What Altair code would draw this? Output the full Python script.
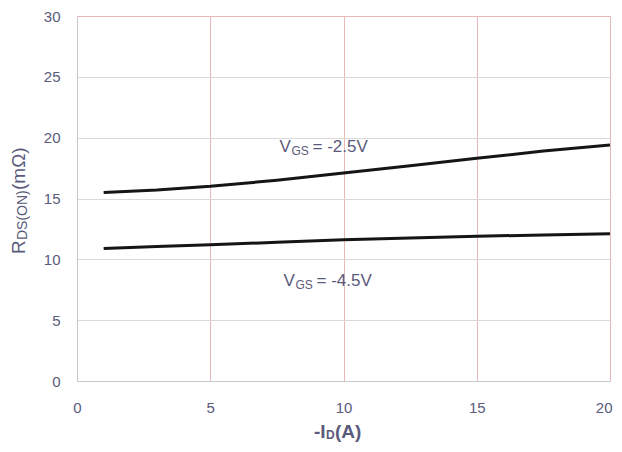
import altair as alt
import pandas as pd

# Data
id_a = [1, 3, 5, 7.5, 10, 12.5, 15, 17.5, 20]
rds_25 = [15.5, 15.7, 16.0, 16.5, 17.1, 17.7, 18.3, 18.9, 19.4]
rds_45 = [10.9, 11.05, 11.2, 11.4, 11.6, 11.75, 11.9, 12.0, 12.1]
series = ["VGS = -2.5V", "VGS = -4.5V"]

ann_x = [7.6, 7.75]
ann_y = [19.2, 8.2]
ann_rest = ["= -2.5V", "= -4.5V"]

x_ticks = [0, 5, 10, 15, 20]
y_ticks = [0, 5, 10, 15, 20, 25, 30]

rows = []
for s, vals in zip(series, [rds_25, rds_45]):
    for x, v in zip(id_a, vals):
        rows.append({"id": x, "rds": v, "series": s})
df = pd.DataFrame(rows)
ann = pd.DataFrame({"x": ann_x, "y": ann_y, "rest": ann_rest})

FONT = "Liberation Sans"
LABEL_COLOR = "#5a5a7c"
PINK = "#e8b9b9"
GRAY = "#d9d9d9"

xs = alt.Scale(domain=[0, 20], nice=False, zero=False)
ys = alt.Scale(domain=[0, 30], nice=False)

lines = alt.Chart(df).mark_line(color="#151515", strokeWidth=3).encode(
    x=alt.X("id:Q", scale=xs, title=None,
            axis=alt.Axis(values=x_ticks, grid=True, gridColor=PINK, ticks=False,
                          domainColor="#c8c8c8", labelFontSize=15, labelFont=FONT,
                          labelColor=LABEL_COLOR, labelPadding=19,
                          labelFlush=False,
                          labelAlign={"condition": {"test": "datum.value === 20", "value": "right"}, "value": "center"},
                          labelOffset={"condition": {"test": "datum.value === 20", "value": 2}, "value": 0})),
    y=alt.Y("rds:Q", scale=ys, title=None,
            axis=alt.Axis(values=y_ticks, grid=True,
                          gridColor={"condition": {"test": "datum.value === 30", "value": PINK}, "value": GRAY},
                          ticks=False, domainColor="#c8c8c8", labelFontSize=15,
                          labelFont=FONT, labelColor=LABEL_COLOR, labelPadding=17)),
    detail="series:N",
)

base_ann = alt.Chart(ann).encode(x=alt.X("x:Q", scale=xs), y=alt.Y("y:Q", scale=ys))
t_v = base_ann.mark_text(align="left", baseline="middle", font=FONT, fontSize=17,
                         color=LABEL_COLOR).encode(text=alt.value("V"))
t_gs = base_ann.mark_text(align="left", baseline="middle", font=FONT, fontSize=12,
                          color=LABEL_COLOR, dx=12, dy=4).encode(text=alt.value("GS"))
t_rest = base_ann.mark_text(align="left", baseline="middle", font=FONT, fontSize=17,
                            color=LABEL_COLOR, dx=33).encode(text="rest:N")

# Axis titles with subscripts
YX, YY = -58, 238
ytitle_main = alt.Chart(pd.DataFrame({"t": ["R"]})).mark_text(
    align="left", baseline="middle", angle=270, font=FONT, fontSize=19,
    color=LABEL_COLOR).encode(x=alt.value(YX), y=alt.value(YY), text="t:N")
ytitle_sub = alt.Chart(pd.DataFrame({"t": ["DS(ON)"]})).mark_text(
    align="left", baseline="middle", angle=270, font=FONT, fontSize=14,
    color=LABEL_COLOR, dx=14, dy=4).encode(x=alt.value(YX), y=alt.value(YY), text="t:N")
ytitle_end = alt.Chart(pd.DataFrame({"t": ["(mΩ)"]})).mark_text(
    align="left", baseline="middle", angle=270, font=FONT, fontSize=19,
    color=LABEL_COLOR, dx=64).encode(x=alt.value(YX), y=alt.value(YY), text="t:N")

XX, XY = 237, 416
xtitle_main = alt.Chart(pd.DataFrame({"t": ["-I"]})).mark_text(
    align="left", baseline="middle", font=FONT, fontSize=19, fontWeight="bold",
    color=LABEL_COLOR).encode(x=alt.value(XX), y=alt.value(XY), text="t:N")
xtitle_sub = alt.Chart(pd.DataFrame({"t": ["D"]})).mark_text(
    align="left", baseline="middle", font=FONT, fontSize=12, fontWeight="bold",
    color=LABEL_COLOR, dx=12, dy=3).encode(x=alt.value(XX), y=alt.value(XY), text="t:N")
xtitle_end = alt.Chart(pd.DataFrame({"t": ["(A)"]})).mark_text(
    align="left", baseline="middle", font=FONT, fontSize=19, fontWeight="bold",
    color=LABEL_COLOR, dx=21).encode(x=alt.value(XX), y=alt.value(XY), text="t:N")

chart = alt.layer(
    lines, t_v, t_gs, t_rest,
    ytitle_main, ytitle_sub, ytitle_end,
    xtitle_main, xtitle_sub, xtitle_end,
).properties(
    width=533, height=365,
    autosize=alt.AutoSizeParams(type="none"),
    padding={"left": 69, "top": 8, "right": 4, "bottom": 63},
    background="white",
).configure_view(stroke=PINK, strokeWidth=1)

chart.save("out.html", embed_options={"renderer": "svg", "actions": False})
